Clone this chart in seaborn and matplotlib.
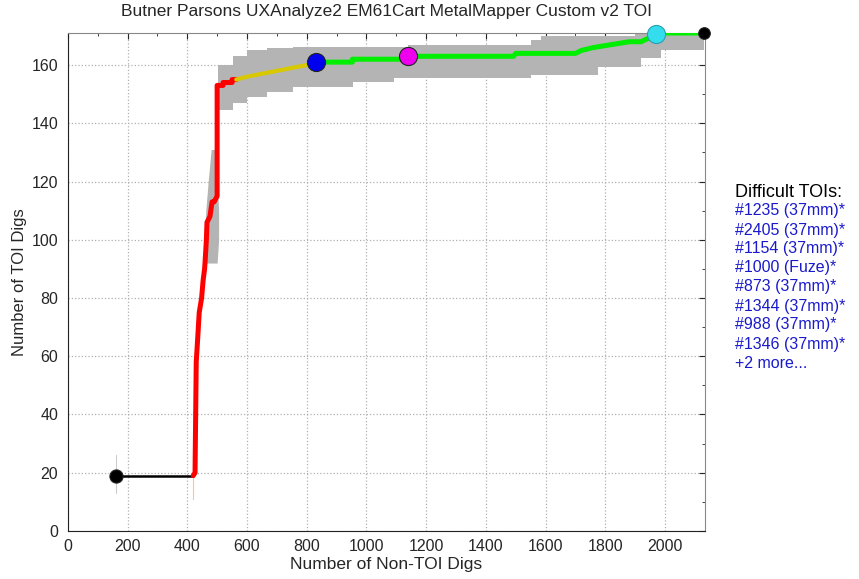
import numpy as np
import pandas as pd
import seaborn as sns
import matplotlib.pyplot as plt
from matplotlib.ticker import MultipleLocator

sns.set_style("white")
plt.rcParams['font.family'] = ['Liberation Sans', 'DejaVu Sans']

# 曲线数据（按颜色分段）
start_x = [160, 420]
start_y = [19, 19]
red_x = [420, 426, 430, 436, 440, 448, 453, 458, 460, 464, 466, 476, 483, 490, 500, 500, 520, 520, 534, 550, 550, 564]
red_y = [19, 20, 58, 68, 75, 80, 86, 90, 93, 100, 106, 108, 113, 113, 115, 153, 153, 154, 154, 154, 155, 155]
yellow_x = [564, 600, 650, 700, 750, 800, 832]
yellow_y = [155, 156, 157, 158, 159, 160, 161]
green_x = [832, 953, 953, 1138, 1138, 1493, 1500, 1700, 1720, 1760, 1820, 1880, 1920, 1940, 1965, 1975, 2130]
green_y = [161, 161, 162, 162, 163, 163, 164, 164, 165, 166, 167, 168, 168, 169, 170, 171, 171]

# 置信区间（灰色带）
band_x = [503, 554, 600, 668, 755, 956, 1091, 1141, 1550, 1584, 1775, 1900, 1920, 1987, 2130]
band_lo = [144.5, 147, 149, 150.7, 152.4, 154.2, 155.5, 155.5, 156.6, 156.6, 159.3, 159.3, 162.4, 165.1, 166.9]
band_hi = [160, 163, 165.1, 165.8, 166.2, 166.2, 166.2, 166.9, 168.6, 170, 170, 171, 171, 171, 171]
steep_y = [92, 100, 110, 120, 131]
steep_lo = [458, 458, 462, 470, 480]
steep_hi = [500, 505, 505, 500, 495]

# 关键点
pts_x = [160, 832, 1138, 1970, 2130]
pts_y = [19, 161, 163, 170.5, 171]
pts_c = ['black', '#0000EE', '#EE00EE', '#33DDEE', 'black']
pts_s = [90, 170, 170, 170, 70]

difficult = ['#1235 (37mm)*', '#2405 (37mm)*', '#1154 (37mm)*', '#1000 (Fuze)*',
             '#873 (37mm)*', '#1344 (37mm)*', '#988 (37mm)*', '#1346 (37mm)*', '+2 more...']

fig = plt.figure(figsize=(8.59, 5.79), dpi=100)
ax = fig.add_axes([0.079, 0.083, 0.742, 0.860])

ax.fill_between(band_x, band_lo, band_hi, step='post', color='#b4b4b4', lw=0, zorder=1)
ax.fill_betweenx(steep_y, steep_lo, steep_hi, color='#b4b4b4', lw=0, zorder=1)
ax.plot([160, 160], [13, 26], color='#cccccc', lw=0.8, zorder=1)
ax.plot([420, 420], [11, 19], color='#f0c8a0', lw=0.8, zorder=1)

sns.lineplot(x=start_x, y=start_y, sort=False, estimator=None, color='black', lw=1.8, ax=ax, zorder=3)
sns.lineplot(x=red_x, y=red_y, sort=False, estimator=None, color='#FF0000', lw=3.6, ax=ax, zorder=3)
sns.lineplot(x=yellow_x, y=yellow_y, sort=False, estimator=None, color='#D8C800', lw=3.0, ax=ax, zorder=3)
sns.lineplot(x=green_x, y=green_y, sort=False, estimator=None, color='#00EE00', lw=3.6, ax=ax, zorder=3)
for x, y, c, s in zip(pts_x, pts_y, pts_c, pts_s):
    ec = '#2aa0b0' if c == '#33DDEE' else '#222222'
    ax.scatter([x], [y], s=s, color=c, edgecolor=ec, linewidth=0.8, zorder=5, clip_on=False)

ax.set_xlim(0, 2135)
ax.set_ylim(0, 171)
ax.xaxis.set_major_locator(MultipleLocator(200))
ax.xaxis.set_minor_locator(MultipleLocator(100))
ax.yaxis.set_major_locator(MultipleLocator(20))
ax.yaxis.set_minor_locator(MultipleLocator(10))
ax.tick_params(which='both', direction='in', top=True, right=True, labelsize=11.5)
ax.tick_params(axis='x', pad=6)
ax.tick_params(axis='y', pad=7)
ax.tick_params(which='major', length=4)
ax.tick_params(which='minor', length=2.5)
ax.grid(True, which='major', linestyle=':', color='#b0b0b0', lw=0.9)
for side in ['left', 'bottom']:
    ax.spines[side].set_color('#222222')
for side in ['top', 'right']:
    ax.spines[side].set_color('#888888')

ax.set_xlabel('Number of Non-TOI Digs', fontsize=12.5, labelpad=2)
ax.set_ylabel('Number of TOI Digs', fontsize=12, labelpad=3)
ax.set_title('Butner Parsons UXAnalyze2 EM61Cart MetalMapper Custom v2 TOI', fontsize=12.5, pad=12)

fig.text(735 / 859, 1 - 192 / 579, 'Difficult TOIs:', fontsize=13, color='black', va='center')
for i, name in enumerate(difficult):
    fig.text(735 / 859, 1 - (211 + i * 19) / 579, name, fontsize=11.5, color='#1a1acc', va='center')

fig.savefig('out.png', dpi=100)
